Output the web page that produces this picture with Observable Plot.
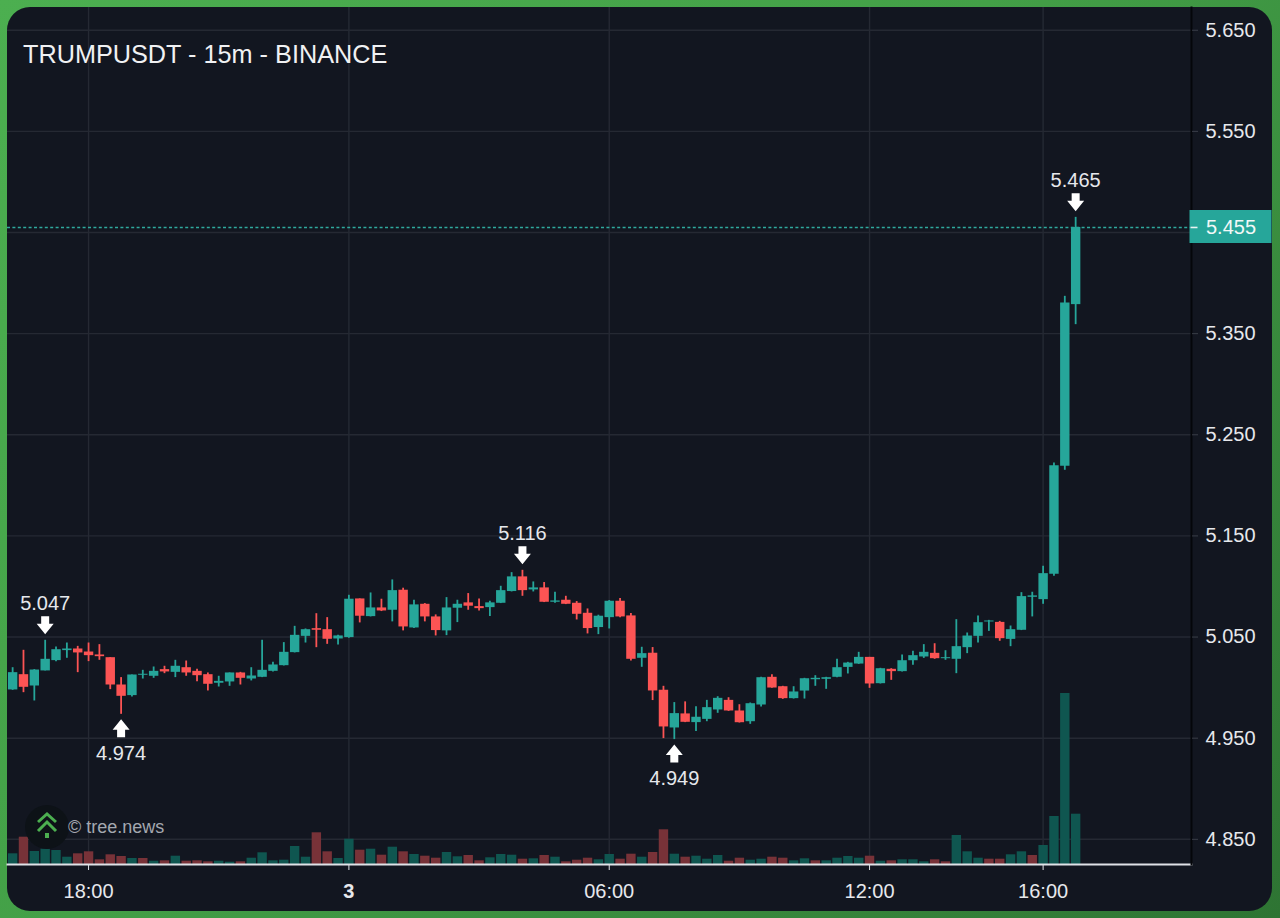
<!DOCTYPE html>
<html>
<head>
<meta charset="utf-8">
<script src="https://cdn.jsdelivr.net/npm/d3@7"></script>
<script src="https://cdn.jsdelivr.net/npm/@observablehq/plot@0.6"></script>
<style>
html,body{margin:0;padding:0;width:1280px;height:918px;overflow:hidden;}
body{background:linear-gradient(135deg,#4caf50 0%,#43a047 45%,#2e7433 100%);position:relative;font-family:"Liberation Sans",Arial,sans-serif;}
#panel{position:absolute;left:7px;top:7px;width:1265px;height:904px;border-radius:23px;background:#121620;}
#chart{position:absolute;left:0;top:0;}
#title{position:absolute;left:23px;top:39px;font-size:25.25px;line-height:30px;color:#f0f1f3;white-space:nowrap;}
#mark{position:absolute;left:25px;top:804px;width:46px;height:46px;}
#credit{position:absolute;left:68px;top:817px;font-size:18px;line-height:21px;color:#a4a8b0;white-space:nowrap;}
</style>
</head>
<body>
<div id="panel"></div>
<div id="chart"></div>
<div id="title">TRUMPUSDT - 15m - BINANCE</div>
<svg id="mark" viewBox="0 0 46 46"><circle cx="22" cy="23" r="22" fill="#0d1217"/><path d="M13 18 L22 10 L31 18 M13 27 L22 18 L31 27" fill="none" stroke="#4caf50" stroke-width="3"/><rect x="20" y="29" width="4" height="5" fill="#4caf50"/></svg>
<div id="credit">© tree.news</div>
<script>
const opens=[4.9977,5.0128,5.0016,5.0165,5.0267,5.0366,5.0382,5.0352,5.0323,5.0296,5.0026,4.9921,5.0122,5.0112,5.0178,5.0151,5.0197,5.0161,5.0128,5.0043,5.0056,5.0145,5.0085,5.0102,5.0161,5.0217,5.0346,5.0507,5.0583,5.0573,5.0481,
5.0495,5.0877,5.0702,5.0788,5.0765,5.0963,5.0590,5.0824,5.0699,5.0561,5.0785,5.0838,5.0801,5.0791,5.0834,5.0950,5.1095,5.0966,5.0986,5.0844,5.0864,5.0834,5.0735,5.0594,5.0692,5.0854,5.0709,5.0290,5.0340,4.9974,4.9601,4.9740,4.9654,
4.9686,4.9779,4.9874,4.9769,4.9663,4.9828,5.0102,5.0009,4.9891,4.9966,5.0078,5.0082,5.0102,5.0200,5.0233,5.0299,5.0039,5.0181,5.0158,5.0266,5.0303,5.0339,5.0286,5.0280,5.0395,5.0507,5.0649,5.0645,5.0477,5.0567,5.0893,5.0870,5.1121,5.2189,5.3787];
const closes=[5.0148,5.0003,5.0174,5.0280,5.0375,5.0382,5.0343,5.0316,5.0306,5.0026,4.9914,5.0125,5.0132,5.0161,5.0155,5.0211,5.0145,5.0118,5.0033,5.0062,5.0145,5.0092,5.0115,5.0171,5.0224,5.0349,5.0517,5.0573,5.0567,5.0478,5.0511,
5.0874,5.0706,5.0788,5.0758,5.0959,5.0600,5.0818,5.0699,5.0564,5.0788,5.0824,5.0805,5.0781,5.0838,5.0959,5.1095,5.0959,5.0986,5.0844,5.0857,5.0824,5.0725,5.0584,5.0706,5.0854,5.0699,5.0280,5.0336,4.9967,4.9611,4.9743,4.9657,4.9707,
4.9802,4.9894,4.9769,4.9653,4.9841,5.0098,4.9996,4.9891,4.9957,5.0088,5.0092,5.0098,5.0197,5.0243,5.0299,5.0036,5.0187,5.0158,5.0266,5.0316,5.0349,5.0286,5.0296,5.0405,5.0510,5.0642,5.0659,5.0484,5.0573,5.0900,5.0907,5.1127,5.2195,5.3803,5.4550];
const highs=[5.0197,5.0369,5.0178,5.0468,5.0402,5.0441,5.0408,5.0441,5.0425,5.0296,5.0099,5.0125,5.0171,5.0204,5.0211,5.0270,5.0263,5.0181,5.0145,5.0112,5.0145,5.0151,5.0197,5.0468,5.0250,5.0445,5.0606,5.0580,5.0731,5.0692,5.0517,
5.0913,5.0877,5.0936,5.0874,5.1065,5.0983,5.0864,5.0831,5.0719,5.0890,5.0864,5.0930,5.0877,5.0854,5.1002,5.1137,5.1160,5.1045,5.1039,5.0943,5.0903,5.0851,5.0778,5.0716,5.0861,5.0880,5.0732,5.0399,5.0396,5.0013,4.9852,4.9859,4.9812,
4.9874,4.9910,4.9900,4.9831,4.9848,5.0102,5.0128,5.0013,5.0009,5.0092,5.0118,5.0102,5.0280,5.0250,5.0349,5.0299,5.0191,5.0187,5.0322,5.0359,5.0425,5.0434,5.0365,5.0672,5.0540,5.0708,5.0665,5.0655,5.0609,5.0939,5.0943,5.1200,5.2222,5.3869,5.4650];
const lows=[4.9973,4.9950,4.9868,5.0165,5.0257,5.0290,5.0148,5.0257,5.0270,4.9980,4.9736,4.9907,5.0085,5.0092,5.0138,5.0099,5.0112,5.0059,4.9967,5.0006,5.0013,5.0026,5.0066,5.0099,5.0155,5.0214,5.0343,5.0441,5.0395,5.0428,5.0422,
5.0488,5.0640,5.0699,5.0752,5.0650,5.0561,5.0584,5.0650,5.0511,5.0514,5.0643,5.0765,5.0758,5.0702,5.0831,5.0946,5.0903,5.0946,5.0841,5.0834,5.0821,5.0669,5.0531,5.0524,5.0580,5.0692,5.0264,5.0201,4.9872,4.9496,4.9486,4.9654,4.9565,
4.9663,4.9746,4.9765,4.9650,4.9637,4.9808,4.9993,4.9884,4.9887,4.9887,5.0013,4.9983,5.0098,5.0135,5.0230,4.9993,5.0036,5.0072,5.0154,5.0220,5.0289,5.0280,5.0270,5.0138,5.0336,5.0441,5.0556,5.0458,5.0405,5.0564,5.0699,5.0824,5.1101,5.2149,5.3589];
const volumes=[10.7,27.3,13,15.3,14,7.3,10.7,12.7,4.7,9.7,8,6,6,3.3,3.7,8.3,3.3,3.7,2.7,3.3,2.3,2.7,6.3,11.7,3.7,4.3,18,7.3,31.7,12.7,6,
25.3,14.3,15.3,9.3,17.3,12.7,10,8.3,6.3,12,7.7,9,3.7,6.7,10,9.3,5.3,5.7,9,7.3,2.7,4.3,6.3,4.7,10,5.3,10.3,7.3,12,34.7,10.3,7.3,8.3,
5.3,9,3.3,6.3,4.3,5.3,7.3,6.3,3.7,5.7,3.7,3.7,6.3,8,6.3,8.3,3.3,3.7,4.7,4.7,2.7,4.7,2.7,29,12.7,6.3,5.3,5.3,9.7,12.7,9,19,48,171,50.3];
const redVolumeDojis=[12,74,86,90,94];
const priceTicks=[5.65,5.55,5.35,5.25,5.15,5.05,4.95,4.85];
const priceGrid=[5.65,5.55,5.45,5.35,5.25,5.15,5.05,4.95,4.85];
const timeTickIndex=[7,31,55,79,95];
const timeTickLabels=["18:00","3","06:00","12:00","16:00"];
const extremeIndex=[3,10,47,61,98];
const extremeKind=["high","low","high","low","high"];
const lastPrice=5.455;

const TEAL="#26a69a",RED="#fc5454",VOLT="#0f5650",VOLR="#783238",GRID="#252933",TXT="#e6e8ec";
const FONT=20;
const start=Date.UTC(2025,6,2,16,15);
const at=i=>new Date(start+i*15*60000);
const rows=opens.map((o,i)=>({t:at(i),o,c:closes[i],h:highs[i],l:lows[i],v:volumes[i],
  col:closes[i]>=o?TEAL:RED,
  vol:(closes[i]<o||redVolumeDojis.includes(i))?VOLR:VOLT}));
const yMin=4.8251,yMax=5.6725,volK=1/1011.25;
const ticksT=timeTickIndex.map(at);
const labelOf=t=>timeTickLabels[ticksT.findIndex(d=>+d===+t)];
const extremes=extremeIndex.map((i,k)=>({t:at(i),kind:extremeKind[k],v:extremeKind[k]==="high"?highs[i]:lows[i]}));
const exHigh=extremes.filter(d=>d.kind==="high"),exLow=extremes.filter(d=>d.kind==="low");
const sym=p=>({draw(ctx,size){const s=Math.sqrt(size/Math.PI)/9;
  p.forEach(([x,y],n)=>n?ctx.lineTo(x*s,y*s):ctx.moveTo(x*s,y*s));ctx.closePath();}});
const arrowDown=sym([[-4,-9],[4,-9],[4,-1.5],[8.5,-1.5],[0,9],[-8.5,-1.5],[-4,-1.5]]);
const arrowUp=sym([[-4,9],[4,9],[4,1.5],[8.5,1.5],[0,-9],[-8.5,1.5],[-4,1.5]]);
const tagBox=sym([[-2,-17.5],[80,-17.5],[80,15.5],[-2,15.5]]);
const tagTick=sym([[-1,-0.8],[6,-0.8],[6,0.8],[-1,0.8]]);

const svg=Plot.plot({
  width:1280,height:918,marginLeft:7,marginRight:89,marginTop:7,marginBottom:54,
  style:{background:"transparent",fontFamily:"'Liberation Sans',Arial,sans-serif",overflow:"visible"},
  x:{type:"utc",domain:[at(-0.473),at(108.68)],label:null},
  y:{domain:[yMin,yMax],label:null},
  color:{type:"identity"},
  marks:[
    Plot.gridY(priceGrid,{stroke:GRID,strokeOpacity:1,strokeWidth:1.4}),
    Plot.gridX(ticksT,{stroke:GRID,strokeOpacity:1,strokeWidth:1.4}),
    Plot.ruleX(rows,{x:"t",y1:yMin,y2:d=>yMin+d.v*volK,stroke:"vol",strokeWidth:9.4}),
    Plot.ruleY([lastPrice],{stroke:"#2fa99d",strokeWidth:1.4,strokeDasharray:"3 2.4"}),
    Plot.ruleX(rows,{x:"t",y1:"l",y2:"h",stroke:"col",strokeWidth:1.8}),
    Plot.ruleX(rows,{x:"t",y1:"o",y2:"c",stroke:"col",strokeWidth:9.4}),
    Plot.dot(exHigh,{x:"t",y:"v",symbol:arrowDown,r:9,fill:"#fff",stroke:"none",dy:-15}),
    Plot.dot(exLow,{x:"t",y:"v",symbol:arrowUp,r:9,fill:"#fff",stroke:"none",dy:14}),
    Plot.text(exHigh,{x:"t",y:"v",text:d=>d.v.toFixed(3),dy:-37,fontSize:FONT,fill:TXT}),
    Plot.text(exLow,{x:"t",y:"v",text:d=>d.v.toFixed(3),dy:39,fontSize:FONT,fill:TXT}),
    Plot.frame({anchor:"bottom",stroke:"#dfe2e7",strokeWidth:2}),
    Plot.frame({anchor:"right",stroke:"#04060a",strokeWidth:2}),
    Plot.axisY(priceTicks,{anchor:"right",tickSize:6,tickPadding:8,tickFormat:d=>d.toFixed(3),fontSize:FONT,fill:TXT,stroke:"#3a3e48",label:null}),
    Plot.axisX(ticksT.filter(t=>labelOf(t)!=="3"),{anchor:"bottom",tickSize:6,tickPadding:13,tickFormat:labelOf,fontSize:FONT,fill:TXT,stroke:"#dfe2e7",label:null}),
    Plot.axisX(ticksT.filter(t=>labelOf(t)==="3"),{anchor:"bottom",tickSize:6,tickPadding:13,tickFormat:labelOf,fontSize:FONT,fontWeight:"bold",fill:TXT,stroke:"#dfe2e7",label:null}),
    Plot.dot([lastPrice],{y:d=>d,frameAnchor:"right",symbol:tagBox,r:9,fill:TEAL,stroke:"none"}),
    Plot.dot([lastPrice],{y:d=>d,frameAnchor:"right",symbol:tagTick,r:9,fill:"#e8f4f2",stroke:"none"}),
    Plot.text([lastPrice],{y:d=>d,frameAnchor:"right",text:d=>d.toFixed(3),dx:14.5,textAnchor:"start",fontSize:FONT,fill:"#f2f8f7"})
  ]
});
document.getElementById("chart").appendChild(svg);
</script>
</body>
</html>
